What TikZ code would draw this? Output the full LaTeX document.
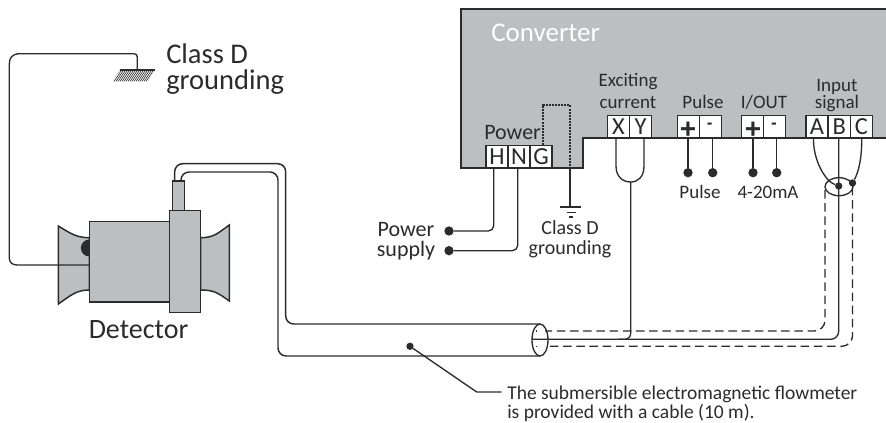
\documentclass[tikz,border=0pt]{standalone}
\usepackage{fontspec}
\setmainfont{Carlito}
\newfontfamily\symfont{Liberation Sans}[BoldFont={Liberation Sans Bold}]
\newcommand{\pxf}[1]{\fontsize{\the\dimexpr #1pt*3/4\relax}{#1pt}\selectfont}
\definecolor{ink}{HTML}{2B2B2B}
\definecolor{metal}{HTML}{BCBEC0}
\tikzset{
  wire/.style={draw=ink,line width=1pt},
  casing/.style={draw=ink,line width=1.1pt,fill=metal},
  dashwire/.style={draw=ink,line width=1pt,dash pattern=on 6.4pt off 3.5pt},
  blob/.style={circle,fill=ink,inner sep=0pt,minimum size=7pt},
  smallblob/.style={circle,fill=ink,inner sep=0pt,minimum size=5.5pt},
  term/.style={draw=ink,line width=.8pt,fill=white,inner sep=0pt,minimum width=16.5pt,minimum height=17pt,text=ink,font=\pxf{24.5}},
  lab/.style={inner sep=0pt,text=ink,anchor=base},
  labl/.style={inner sep=0pt,text=ink,anchor=base west},
  sign/.style={inner sep=0pt,text=ink,font=\symfont\bfseries\pxf{28}},
  minus/.style={inner sep=0pt,text=ink,font=\symfont\bfseries\pxf{17}},
}
\begin{document}
\begin{tikzpicture}[x=.75pt,y=-.75pt]
\useasboundingbox (0,0) rectangle (886,423);
% converter
\path[draw=ink,line width=1.9pt,fill=metal] (892,9) -- (461,9) -- (461,168) -- (583,168) -- (583,138) -- (892,138);
\node[labl,text=white,font=\pxf{27}] (conv) at (491,41.7) {Converter};
% terminals
\node[term] (tH) at (497,156.5) {H};
\node[term] (tN) at (519,156.5) {N};
\node[term] (tG) at (541,156.5) {G};
\node[term] (tX) at (618.5,126.5) {X};
\node[term] (tY) at (640.5,126.5) {Y};
\node[term] (tP) at (688.7,126.5) {};
\node[term] (tM) at (710.8,126.5) {};
\node[term] (tI) at (752.7,126.5) {};
\node[term] (tJ) at (774.8,126.5) {};
\node[term] (tA) at (817,126.5) {A};
\node[term] (tB) at (839.3,126.5) {B};
\node[term] (tC) at (861.3,126.5) {C};
% labels in converter
\node[labl,font=\pxf{22}] (lpower) at (484,140) {Power};
\node[lab,font=\pxf{19}] (lexc1) at (628,87) {Exciting};
\node[lab,font=\pxf{19}] (lexc2) at (628,109) {current};
\node[lab,font=\pxf{19}] (lpulse) at (703,109) {Pulse};
\node[lab,font=\pxf{19}] (liout) at (764,109) {I/OUT};
\node[lab,font=\pxf{19}] (lin1) at (837,92) {Input};
\node[lab,font=\pxf{19}] (lin2) at (837,109) {signal};
% power wires
\node[blob] (ps1) at (449,231) {};
\node[blob] (ps2) at (449,250.7) {};
\coordinate (h1) at (493.7,168);
\coordinate (n1) at (517.7,168);
\draw[wire,rounded corners=4pt] (h1) -- (h1 |- ps1) -- (ps1);
\draw[wire,rounded corners=4pt] (n1) -- (n1 |- ps2) -- (ps2);
\node[lab,font=\pxf{22}] (lps1) at (406,236.7) {Power};
\node[lab,font=\pxf{22}] (lps2) at (406,256.7) {supply};
% ground in converter
\coordinate (gtop) at (570,168);
\coordinate (gnd) at (570,207);
\draw[draw=ink,line width=.8pt,dash pattern=on 1.5pt off .8pt] (543,145) -- (543,105) -- (570,105) -- (gtop);
\draw[wire] (gtop) -- (gnd);
\draw[wire] (560,207) -- (581,207) (566.5,212.3) -- (575.5,212.3) (569,217) -- (572.5,217);
\node[lab,font=\pxf{20}] (lcd1) at (570,235) {Class D};
\node[lab,font=\pxf{20}] (lcd2) at (570,255) {grounding};
% exciting
\coordinate (xu) at (630.7,182);
\draw[wire] (616,138) -- (616,166) .. controls (616,177) and (623,182) .. (xu) .. controls (638,182) and (644,177) .. (644,166) -- (644,138);
\draw[wire,rounded corners=4.5pt] (xu) -- (630.7,339.3) -- (618,339.3);
% pulse, i/out
\node[blob] (d1) at (688,172.7) {};
\node[blob] (d2) at (712.7,172.7) {};
\node[blob] (d3) at (753,172.7) {};
\node[blob] (d4) at (776.7,172.7) {};
\draw[wire] (d1 |- tP.south) -- (d1);
\draw[wire] (d2 |- tM.south) -- (d2);
\draw[wire] (d3 |- tI.south) -- (d3);
\draw[wire] (d4 |- tJ.south) -- (d4);
\node[sign] (pl1) at (688,130.5) {+};
\node[minus] (mi1) at (709.8,126) {-};
\node[sign] (pl2) at (753,130.5) {+};
\node[minus] (mi2) at (774,126) {-};
\node[lab,font=\pxf{19}] (lp) at (700,199) {Pulse};
\node[lab,font=\pxf{19}] (lma) at (768,199) {4-20mA};
% input signal
\node[smallblob] (bb) at (838.7,186) {};
\node[smallblob] (bc) at (852.5,183) {};
\draw[wire] (813.5,138) .. controls (813,160) and (825,181) .. (bb);
\draw[wire] (861.7,138) .. controls (862,160) and (858,173) .. (bc);
\draw[dashwire,rounded corners=8pt] (825,190) -- (825,331) -- (545,331);
\draw[dashwire,rounded corners=8pt] (bc) -- (bc |- 0,346.3) -- (545,346.3);
\draw[wire] (535.5,331) -- (536.5,331) (535.5,346.3) -- (536.5,346.3);
\draw[wire,rounded corners=6pt] (838.7,138) -- (838.7,339.3) -- (532,339.3);
\draw[wire] (839,186.7) ellipse[x radius=14,y radius=9];
% cable
\draw[draw=ink,line width=1.1pt,rounded corners=6pt] (174.7,181) -- (174.7,163.7) -- (285.7,163.7) -- (285.7,324) -- (540,324);
\draw[draw=ink,line width=1.1pt,rounded corners=6pt] (181,181) -- (181,172) -- (278,172) -- (278,356) -- (540,356);
\draw[wire] (540,340) ellipse[x radius=8,y radius=16];
% leader
\node[blob,minimum size=5.5pt] (cd) at (410,346.3) {};
\coordinate (knee) at (476.7,392);
\coordinate (lend) at (501.7,392);
\draw[wire] (cd) -- (knee) -- (lend);
\node[labl,font=\pxf{19.5}] (note1) at (507,400) {The submersible electromagnetic flowmeter};
\node[labl,font=\pxf{19.5}] (note2) at (507,419) {is provided with a cable (10 m).};
% detector
\path[casing] (58.3,226) .. controls (70,233) and (76,237.7) .. (89.3,237.7) -- (89.3,290) .. controls (76,290) and (70,296) .. (58.3,304) -- cycle;
\path[casing] (229.3,225) .. controls (218,233) and (214,237.7) .. (200.7,237.7) -- (200.7,290) .. controls (214,290) and (218,293) .. (229.3,301) -- cycle;
\path[casing] (89.3,221.7) rectangle (169.3,302);
\path[casing] (169.3,210.3) rectangle (200.7,312.7);
\path[casing] (172.7,181) rectangle (184.3,210.3);
\fill[ink] (89.3,256.5) arc[start angle=90,end angle=270,radius=8.5];
% grounding wire
\coordinate (hatchtop) at (137.3,70);
\draw[wire] (89,265) -- (17,265) .. controls (12,265) and (9.3,262) .. (9.3,258) -- (9.3,64) .. controls (9.3,58) and (12,53.7) .. (20,53.7) -- (134,53.7) .. controls (136,53.7) and (137.3,55) .. (137.3,57) -- (hatchtop);
\begin{scope}
\clip (120,70) -- (155,70) -- (147.7,81.3) -- (112.7,81.3) -- cycle;
\foreach \i in {0,2,...,44}{\draw[ink,line width=.5pt] (112+\i,81.5) -- (120+\i,69.5);}
\end{scope}
\draw[wire] (120,70) -- (155,70);
\node[labl,font=\pxf{28.5}] (lcdtop1) at (166,63.3) {Class D};
\node[labl,font=\pxf{28.5}] (lcdtop2) at (166,90) {grounding};
\node[lab,font=\pxf{28}] (ldet) at (138.5,339) {Detector};
\end{tikzpicture}
\end{document}
